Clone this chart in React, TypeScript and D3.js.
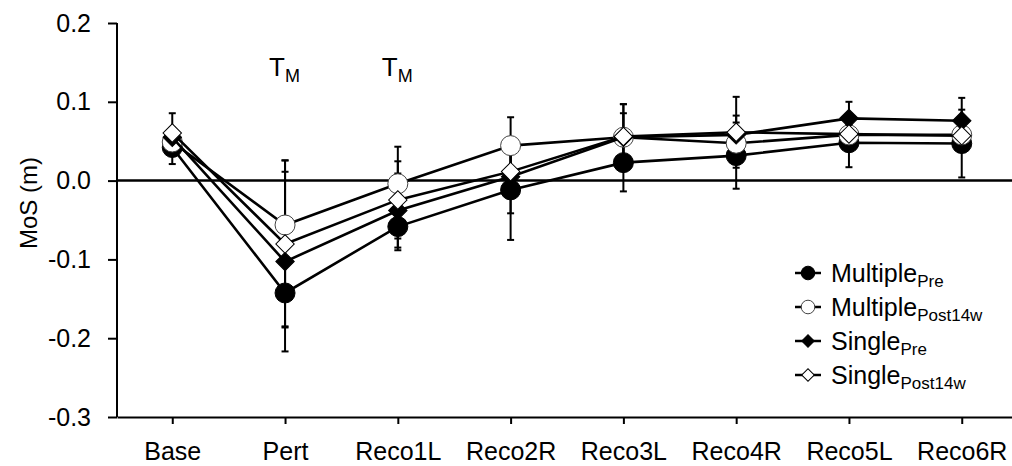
import { useEffect, useRef } from "react";
import * as d3 from "d3";

const CATEGORIES = ["Base", "Pert", "Reco1L", "Reco2R", "Reco3L", "Reco4R", "Reco5L", "Reco6R"];

const MULTIPLE_PRE = [0.042, -0.1426, -0.0584, -0.0118, 0.0228, 0.0317, 0.048, 0.047];
const MULTIPLE_PRE_SD = [0.021, 0.0424, 0.03, 0.0635, 0.0365, 0.042, 0.031, 0.043];

const MULTIPLE_POST = [0.049, -0.0563, -0.004, 0.0444, 0.055, 0.0474, 0.058, 0.058];
const MULTIPLE_POST_SD = [0.012, 0.082, 0.047, 0.036, 0.042, 0.015, 0.012, 0.012];

const SINGLE_PRE = [0.055, -0.1028, -0.038, 0.005, 0.055, 0.058, 0.079, 0.076];
const SINGLE_PRE_SD = [0.012, 0.114, 0.047, 0.0465, 0.0305, 0.0245, 0.021, 0.029];

const SINGLE_POST = [0.0605, -0.0804, -0.0245, 0.0114, 0.056, 0.0613, 0.059, 0.057];
const SINGLE_POST_SD = [0.025, 0.106, 0.049, 0.03, 0.041, 0.045, 0.012, 0.012];

const Y_TICKS = [-0.3, -0.2, -0.1, 0.0, 0.1, 0.2];
const T_M_AT = ["Pert", "Reco1L"];

const SERIES = [
  { name: "Multiple", sub: "Pre", values: MULTIPLE_PRE, sd: MULTIPLE_PRE_SD, shape: "circle", filled: true },
  { name: "Multiple", sub: "Post14w", values: MULTIPLE_POST, sd: MULTIPLE_POST_SD, shape: "circle", filled: false },
  { name: "Single", sub: "Pre", values: SINGLE_PRE, sd: SINGLE_PRE_SD, shape: "diamond", filled: true },
  { name: "Single", sub: "Post14w", values: SINGLE_POST, sd: SINGLE_POST_SD, shape: "diamond", filled: false },
];

const FONT = "'Liberation Sans', Arial, sans-serif";

export default function App() {
  const svgRef = useRef<SVGSVGElement>(null);

  useEffect(() => {
    if (!svgRef.current) return;
    document.body.style.margin = "0";

    const svg = d3.select(svgRef.current);
    svg.selectAll("*").remove();

    const x = d3.scalePoint<string>().domain(CATEGORIES).range([117, 1017]).padding(0.49);
    const y = d3.scaleLinear().domain([-0.3, 0.2]).range([417, 23]);

    // Y axis
    svg.append("g")
      .attr("transform", "translate(117,0)")
      .call(d3.axisLeft(y).tickValues(Y_TICKS).tickSize(9).tickPadding(17).tickFormat((d) => (+d).toFixed(1)))
      .call((g) => g.select(".domain").attr("stroke", "#000").attr("stroke-width", 2).attr("d", `M0,${y(0.2)}V${y(-0.3)}`))
      .call((g) => g.selectAll(".tick line").attr("stroke", "#000").attr("stroke-width", 2))
      .call((g) => g.selectAll(".tick text").attr("fill", "#000").attr("font-size", "25px").attr("font-family", FONT));

    // X axis
    svg.append("g")
      .attr("transform", `translate(0,${y(-0.3)})`)
      .call(d3.axisBottom(x).tickSize(7).tickPadding(18).tickSizeOuter(0))
      .call((g) => g.select(".domain").attr("stroke", "#000").attr("stroke-width", 2))
      .call((g) => g.selectAll(".tick line").attr("stroke", "#000").attr("stroke-width", 2))
      .call((g) => g.selectAll(".tick text").attr("fill", "#000").attr("font-size", "25px").attr("font-family", FONT));

    // Zero line
    svg.append("line")
      .attr("x1", 117)
      .attr("x2", 1017)
      .attr("y1", y(0))
      .attr("y2", y(0))
      .attr("stroke", "#000")
      .attr("stroke-width", 2.5);

    // Y label
    svg.append("text")
      .attr("transform", `translate(37,${(y(0.2) + y(-0.3)) / 2 - 17}) rotate(-90)`)
      .attr("text-anchor", "middle")
      .attr("font-size", "24px")
      .attr("font-family", FONT)
      .text("MoS (m)");

    // T_M annotations
    T_M_AT.forEach((cat) => {
      const t = svg.append("text")
        .attr("x", x(cat)! - 16)
        .attr("y", 76)
        .attr("font-size", "26px")
        .attr("font-family", FONT);
      t.append("tspan").text("T");
      t.append("tspan").attr("font-size", "18px").attr("dy", 6).text("M");
    });

    // Error bars (under lines and symbols)
    const cap = 3.5;
    SERIES.forEach((s) => {
      s.values.forEach((v, i) => {
        const cx = x(CATEGORIES[i])!;
        const top = y(v + s.sd[i]);
        const bot = y(v - s.sd[i]);
        const g = svg.append("g").attr("stroke", "#000").attr("stroke-width", 2);
        g.append("line").attr("x1", cx).attr("x2", cx).attr("y1", top).attr("y2", bot);
        g.append("line").attr("x1", cx - cap).attr("x2", cx + cap).attr("y1", top).attr("y2", top);
        g.append("line").attr("x1", cx - cap).attr("x2", cx + cap).attr("y1", bot).attr("y2", bot);
      });
    });

    const diamond = d3.symbol().type(d3.symbolSquare).size(170);
    const drawMarker = (g: any, shape: string, filled: boolean, cx: number, cy: number, scale: number) => {
      if (shape === "circle") {
        g.append("circle")
          .attr("cx", cx)
          .attr("cy", cy)
          .attr("r", 10 * scale)
          .attr("fill", filled ? "#000" : "#fff")
          .attr("stroke", filled ? "#000" : "#444")
          .attr("stroke-width", 1);
      } else {
        g.append("path")
          .attr("d", diamond)
          .attr("transform", `translate(${cx},${cy}) rotate(45) scale(${scale})`)
          .attr("fill", filled ? "#000" : "#fff")
          .attr("stroke", "#000")
          .attr("stroke-width", 1 / scale);
      }
    };

    const line = d3.line<number>()
      .x((_, i) => x(CATEGORIES[i])!)
      .y((d) => y(d));

    SERIES.forEach((s) => {
      const g = svg.append("g");
      g.append("path")
        .attr("d", line(s.values))
        .attr("fill", "none")
        .attr("stroke", "#000")
        .attr("stroke-width", 2.6);
      s.values.forEach((v, i) => drawMarker(g, s.shape, s.filled, x(CATEGORIES[i])!, y(v), 1));
    });

    // Legend
    const legend = svg.append("g");
    SERIES.forEach((s, i) => {
      const ly = 273 + i * 34;
      legend.append("line")
        .attr("x1", 795)
        .attr("x2", 821)
        .attr("y1", ly)
        .attr("y2", ly)
        .attr("stroke", "#000")
        .attr("stroke-width", 2.5);
      drawMarker(legend, s.shape, s.filled, 808, ly, 0.68);
      const t = legend.append("text")
        .attr("x", 831)
        .attr("y", ly + 9)
        .attr("font-size", "25px")
        .attr("font-family", FONT);
      t.append("tspan").text(s.name);
      t.append("tspan").attr("font-size", "17px").attr("dy", 5).text(s.sub);
    });
  }, []);

  return <svg ref={svgRef} width={1012} height={466} style={{ display: "block", background: "#fff" }} />;
}
